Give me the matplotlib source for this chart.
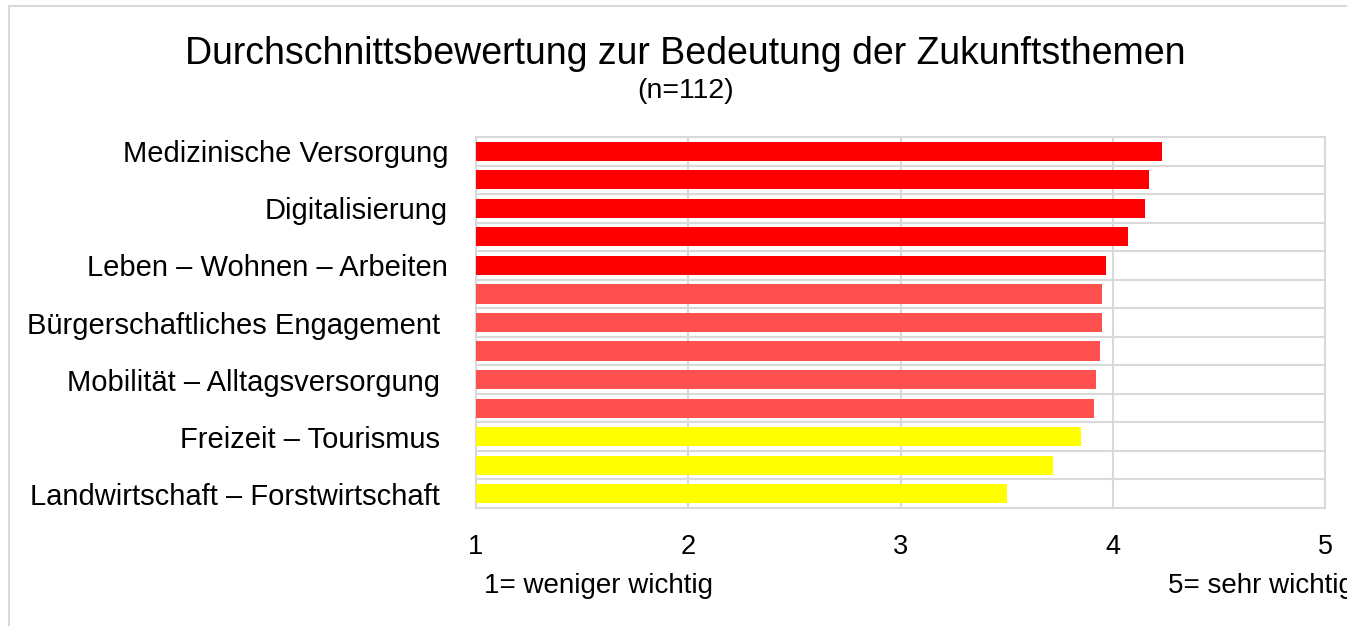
import matplotlib
matplotlib.use("Agg")
import matplotlib.pyplot as plt
from matplotlib.lines import Line2D

plt.rcParams['font.family'] = ['Liberation Sans', 'DejaVu Sans']

# Data (top to bottom)
categories = [
    "Medizinische Versorgung", "",
    "Digitalisierung", "",
    "Leben – Wohnen – Arbeiten", "",
    "Bürgerschaftliches Engagement ", "",
    "Mobilität – Alltagsversorgung ", "",
    "Freizeit – Tourismus ", "",
    "Landwirtschaft – Forstwirtschaft ",
]
values = [4.23, 4.17, 4.15, 4.07, 3.97, 3.95, 3.95, 3.94, 3.92, 3.91, 3.85, 3.72, 3.50]
colors = ["#FF0000"] * 5 + ["#FF5050"] * 5 + ["#FFFF00"] * 3
x_ticks = [1, 2, 3, 4, 5]
title = "Durchschnittsbewertung zur Bedeutung der Zukunftsthemen"
subtitle = "(n=112)"
note_low = "1= weniger wichtig"
note_high = "5= sehr wichtig"

W, H = 1347, 626
fig = plt.figure(figsize=(W / 100, H / 100), dpi=100)
fig.patch.set_facecolor("white")

def fx(px):
    return px / W

def fy(py):
    return 1 - py / H

ax = fig.add_axes([fx(476), fy(508), fx(1325) - fx(476), fy(137) - fy(508)])

ypos = list(range(len(values)))
base = 1
ax.barh(ypos, [v - base for v in values], left=base, height=0.67,
        color=colors, zorder=3)

ax.set_xlim(1, 5)
ax.set_ylim(len(values) - 0.5, -0.5)
ax.set_xticks(x_ticks)
ax.set_xticklabels([str(t) for t in x_ticks])

ax.set_yticks(ypos)
ax.set_yticklabels(categories)
ax.set_yticks([i + 0.5 for i in range(len(values) - 1)], minor=True)

grid_col = "#d9d9d9"
ax.grid(axis="x", which="major", color=grid_col, linewidth=1.5, zorder=0)
ax.grid(axis="y", which="minor", color=grid_col, linewidth=1.5, zorder=0)
ax.set_axisbelow(True)
for s in ax.spines.values():
    s.set_color(grid_col)
    s.set_linewidth(1.5)

ax.tick_params(axis="both", which="both", length=0)
ax.tick_params(axis="y", labelsize=21, pad=20)
ax.tick_params(axis="x", labelsize=19.5, pad=18.5)

fig.text(fx(685.5), fy(64), title, ha="center", va="baseline", fontsize=27)
fig.text(fx(685.5), fy(98), subtitle, ha="center", va="baseline", fontsize=20.5)
fig.text(fx(484), fy(593), note_low, ha="left", va="baseline", fontsize=20)
fig.text(fx(1168), fy(593), note_high, ha="left", va="baseline", fontsize=20)

# outer chart border (partially visible: top and left)
fig.add_artist(Line2D([fx(8.5), fx(8.5)], [fy(6), 0], color=grid_col, linewidth=1.5))
fig.add_artist(Line2D([fx(8.5), 1], [fy(6), fy(6)], color=grid_col, linewidth=1.5))

fig.savefig("out.png", dpi=100, facecolor="white")
